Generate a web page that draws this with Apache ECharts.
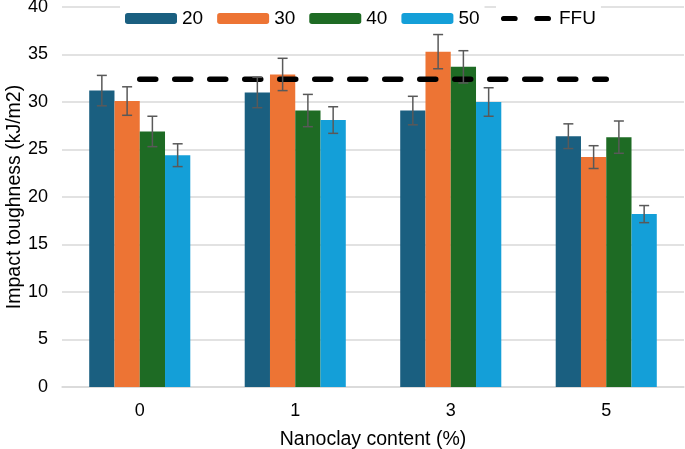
<!DOCTYPE html>
<html><head><meta charset="utf-8">
<script src="https://cdn.jsdelivr.net/npm/echarts@6/dist/echarts.min.js"></script>
<style>html,body{margin:0;padding:0;background:#fff}#c{width:685px;height:449px}</style>
</head><body><div id="c"></div>
<script>
const categories = ['0', '1', '3', '5'];
const seriesNames = ['20', '30', '40', '50'];
const v20 = [31.2, 31.0, 29.1, 26.4];
const v30 = [30.1, 32.9, 35.3, 24.2];
const v40 = [26.9, 29.1, 33.7, 26.3];
const v50 = [24.4, 28.1, 30.0, 18.2];
const e20 = [1.6, 1.6, 1.5, 1.3];
const e30 = [1.5, 1.7, 1.8, 1.2];
const e40 = [1.6, 1.7, 1.7, 1.7];
const e50 = [1.2, 1.4, 1.5, 0.9];
const ffu = [32.4, 32.4, 32.4, 32.4];
const yTicks = [0, 5, 10, 15, 20, 25, 30, 35, 40];
const colors = ['#1A5F80', '#ED7434', '#1E6B24', '#149FD8'];

const values = [v20, v30, v40, v50];
const errors = [e20, e30, e40, e50];
const gapFrac = 0.35;
const FONT = 'Liberation Sans';

const series = values.map((vals, i) => ({
  name: seriesNames[i], type: 'bar', data: vals, barGap: '0%', barCategoryGap: '35%',
  itemStyle: {color: colors[i]}, z: 2
}));
values.forEach((vals, i) => {
  series.push({
    type: 'custom', name: 'err' + i, z: 5,
    data: vals.map((v, j) => [j, v - errors[i][j], v + errors[i][j]]),
    renderItem: function (params, api) {
      const bandW = api.size([1, 0])[0];
      const bw = bandW * (1 - gapFrac) / 4;
      const c = api.coord([api.value(0), 0]);
      const x = c[0] + (i - 1.5) * bw;
      const lo = api.coord([api.value(0), api.value(1)])[1];
      const hi = api.coord([api.value(0), api.value(2)])[1];
      const cap = 5;
      const st = {stroke: '#595959', lineWidth: 1.5};
      return {type: 'group', children: [
        {type: 'line', shape: {x1: x, y1: lo, x2: x, y2: hi}, style: st},
        {type: 'line', shape: {x1: x - cap, y1: lo, x2: x + cap, y2: lo}, style: st},
        {type: 'line', shape: {x1: x - cap, y1: hi, x2: x + cap, y2: hi}, style: st}
      ]};
    }
  });
});
series.push({
  name: 'FFU', type: 'line', data: ffu, symbol: 'none', z: 4,
  lineStyle: {color: '#000', width: 5.5, type: [16, 19], cap: 'round'},
  itemStyle: {color: '#000'}
});

const dashIcon = 'path://M2.5,0H13.5A2.5,2.5 0 0 1 13.5,5H2.5A2.5,2.5 0 0 1 2.5,0Z M34.5,0H45.5A2.5,2.5 0 0 1 45.5,5H34.5A2.5,2.5 0 0 1 34.5,0Z';

const chart = echarts.init(document.getElementById('c'));
chart.setOption({
  animation: false,
  grid: {left: 62, right: 1, top: 7, bottom: 62, outerBoundsMode: 'none', containLabel: false},
  legend: [{
    top: 4, left: 120, itemWidth: 52, itemHeight: 11, itemGap: 14,
    data: seriesNames,
    textStyle: {fontSize: 19, color: '#000', fontFamily: FONT},
    backgroundColor: '#fff'
  }, {
    top: 4, left: 496, itemWidth: 50, itemHeight: 5.5, itemGap: 14,
    data: [{name: 'FFU', icon: dashIcon, itemStyle: {color: '#000'}}],
    textStyle: {fontSize: 19, color: '#000', fontFamily: FONT, padding: [0, 0, 0, 3]},
    backgroundColor: '#fff'
  }],
  xAxis: {
    type: 'category', data: categories,
    name: 'Nanoclay content (%)', nameLocation: 'middle', nameGap: 43, nameMoveOverlap: false,
    nameTextStyle: {fontSize: 19.5, color: '#000', fontFamily: FONT},
    axisLine: {lineStyle: {color: '#d9d9d9', width: 1.5}},
    axisTick: {show: false},
    axisLabel: {fontSize: 18, color: '#000', margin: 15, fontFamily: FONT}
  },
  yAxis: {
    type: 'value', min: yTicks[0], max: yTicks[yTicks.length - 1], interval: 5,
    name: 'Impact toughness (kJ/m2)', nameLocation: 'middle', nameGap: 37, nameMoveOverlap: false,
    nameTextStyle: {fontSize: 19.5, color: '#000', fontFamily: FONT},
    axisLine: {show: false}, axisTick: {show: false},
    splitLine: {lineStyle: {color: '#d9d9d9', width: 1.5}},
    axisLabel: {fontSize: 18, color: '#000', margin: 14, fontFamily: FONT}
  },
  series: series
});
</script></body></html>
